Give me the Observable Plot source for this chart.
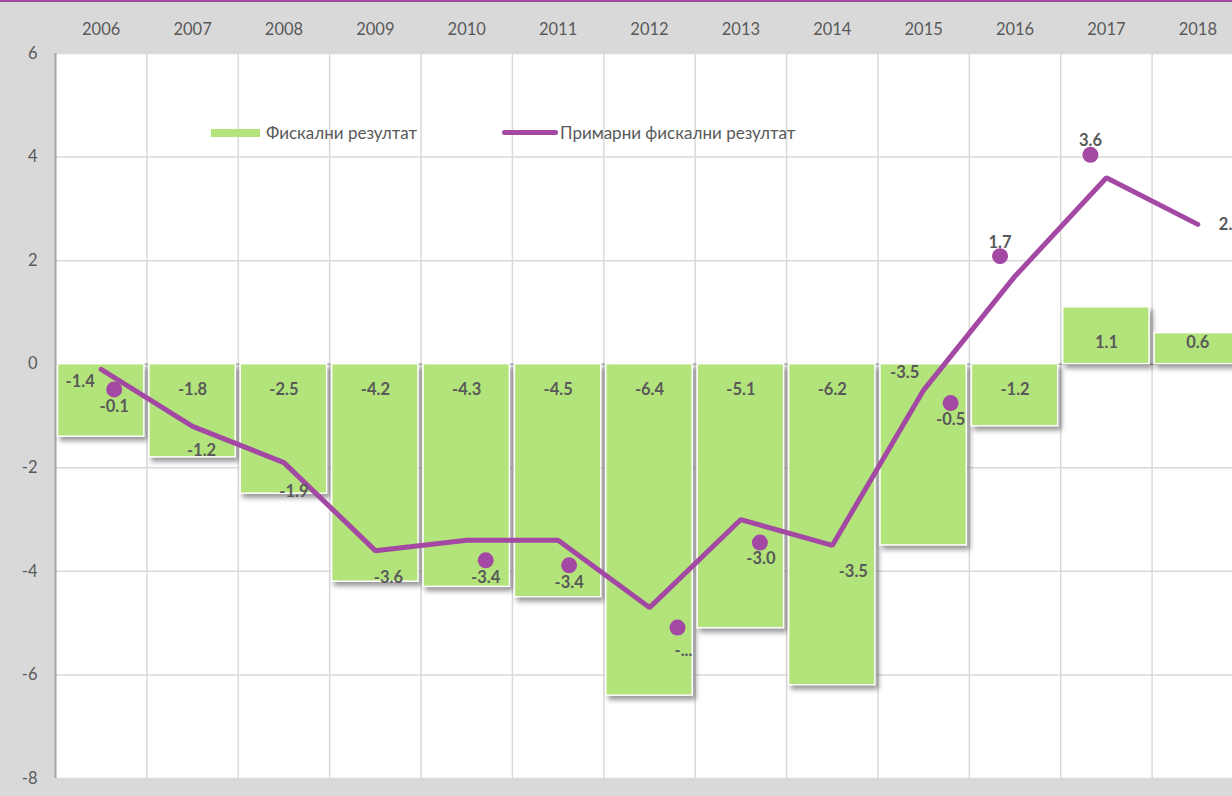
<!DOCTYPE html>
<html><head><meta charset="utf-8">
<script src="https://cdn.jsdelivr.net/npm/d3@7"></script>
<script src="https://cdn.jsdelivr.net/npm/@observablehq/plot@0.6"></script>
<style>
html,body{margin:0;padding:0;overflow:hidden;background:#d9d9d9;width:1232px;height:796px}
#wrap{position:relative;border-top:2px solid #a349a4;width:1232px;height:794px;overflow:hidden;background:#d9d9d9}
.lg{position:absolute;font-family:Lato,"Noto Sans",sans-serif;font-size:17px;color:#595959;line-height:20px;white-space:nowrap}
.sw{position:absolute}
</style></head><body><div id="wrap"></div><script>
// ---- data ----
const years = ["2006","2007","2008","2009","2010","2011","2012","2013","2014","2015","2016","2017","2018"];
const fiscal = [-1.4,-1.8,-2.5,-4.2,-4.3,-4.5,-6.4,-5.1,-6.2,-3.5,-1.2,1.1,0.6];
const primary = [-0.1,-1.2,-1.9,-3.6,-3.4,-3.4,-4.7,-3.0,-3.5,-0.5,1.7,3.6,2.7];
const primaryLabels = ["-0.1","-1.2","-1.9","-3.6","-3.4","-3.4","-...","-3.0","-3.5","-0.5","1.7","3.6","2.7"];
const yTicks = [-8,-6,-4,-2,0,2,4,6];
const seriesNames = ["Фискални резултат","Примарни фискални резултат"];

// ---- layout (pixel offsets of data labels, not data) ----
const barLabelOffset = [[-21,18],null,null,null,null,null,null,null,null,[-19,9],null,null,null];
const primLabelOffset = [[13,37],[9,24],[10,29],[13,27],[19,37],[11,42],[34,43],[20,39],[21,26],[27,30],[-15,-33],[-16,-37],[21,0]];
const primDotOffset = [[13,20],null,null,null,[19,20],[11,25],[28,20],[19,23],null,[27,13],[-15,-20],[-16,-23],null];

const green = "#b3e47b", purple = "#a349a4", textCol = "#595959";
const xRange = [55, 1243];
const bw = (xRange[1]-xRange[0]) / years.length;
const fsAxis = 16.5, fsLabel = 16.5;

const rows = years.map((y,i)=>({year:y, fiscal:fiscal[i], primary:primary[i], label:primaryLabels[i]}));

const marks = [
  Plot.frame({fill:"white", stroke:null}),
  Plot.ruleY(yTicks.filter(d=>d!==0), {stroke:"#d9d9d9", strokeWidth:1.5}),
  Plot.ruleX(years, {x:d=>d, dx:-bw/2, stroke:"#d9d9d9", strokeWidth:1.5}),
  Plot.ruleY([0], {stroke:"#a6a6a6", strokeWidth:1.5}),
  Plot.ruleX([years[0]], {x:d=>d, dx:-bw/2, stroke:"#a6a6a6", strokeWidth:2}),
  Plot.barY(rows, {x:"year", y:"fiscal", fill:green, stroke:"white", strokeWidth:1.5, insetLeft:2.5, insetRight:2.5}),
  Plot.lineY(rows, {x:"year", y:"primary", stroke:purple, strokeWidth:5, strokeLinejoin:"miter", strokeLinecap:"round"}),
];
// bar labels (inside base)
rows.forEach((r,i)=>{
  const off = barLabelOffset[i] || [0, r.fiscal<0 ? 26 : -21];
  marks.push(Plot.text([r], {x:"year", y:()=>0, text:d=>d3.format(".1f")(d.fiscal).replace("−","-"), dx:off[0], dy:off[1], fill:textCol, fontWeight:"bold", fontSize:fsLabel}));
});
// primary dots and labels
rows.forEach((r,i)=>{
  const dOff = primDotOffset[i];
  if (dOff) marks.push(Plot.dot([r], {x:"year", y:"primary", r:8, fill:purple, stroke:null, dx:dOff[0], dy:dOff[1]}));
  const lOff = primLabelOffset[i];
  marks.push(Plot.text([r], {x:"year", y:"primary", text:"label", dx:lOff[0], dy:lOff[1], fill:textCol, fontWeight:"bold", fontSize:fsLabel, textAnchor: i===years.length-1 ? "start" : "middle"}));
});
marks.push(Plot.axisX({anchor:"top", tickSize:0, tickPadding:19, fontSize:fsAxis, color:textCol}));
marks.push(Plot.axisY({ticks:yTicks, tickSize:0, tickPadding:18, fontSize:fsAxis, color:textCol, tickFormat:d=>String(d)}));

const chart = Plot.plot({
  width:1232, height:794,
  marginTop:51, marginBottom:18, marginLeft:55, marginRight:0,
  style:{fontFamily:"Lato, 'Noto Sans', sans-serif", background:"transparent", color:textCol, overflow:"hidden"},
  x:{type:"band", domain:years, range:xRange, padding:0, round:false, label:null},
  y:{domain:[-8,6], label:null},
  marks
});
const wrap = document.getElementById("wrap");
wrap.appendChild(chart);
const barG = chart.querySelector('g[aria-label="bar"]');
if (barG) barG.style.filter = "drop-shadow(3px 4px 2.5px rgba(0,0,0,0.4))";

// legend (HTML overlay)
const lg = document.createElement("div");
lg.innerHTML = `
 <div class="sw" style="left:211px;top:127px;width:49px;height:8px;background:${green}"></div>
 <div class="lg" style="left:266px;top:121px">${seriesNames[0]}</div>
 <div class="sw" style="left:502px;top:128px;width:56px;height:5px;border-radius:3px;background:${purple}"></div>
 <div class="lg" style="left:560px;top:121px">${seriesNames[1]}</div>`;
wrap.appendChild(lg);
</script></body></html>
